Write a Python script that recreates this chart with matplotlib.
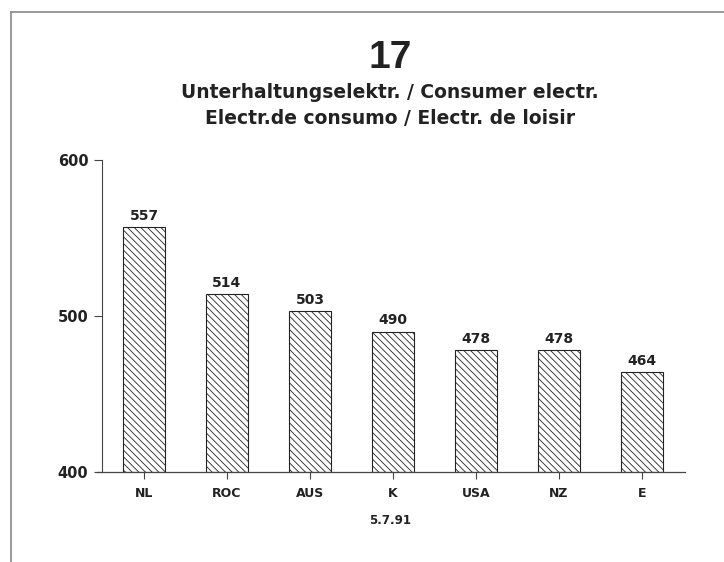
import matplotlib
matplotlib.use('Agg')
import matplotlib.pyplot as plt
from matplotlib.lines import Line2D

countries = ['NL', 'ROC', 'AUS', 'K', 'USA', 'NZ', 'E']
values = [557, 514, 503, 490, 478, 478, 464]
yticks = [400, 500, 600]

plt.rcParams['font.family'] = ['DejaVu Sans']
plt.rcParams['hatch.linewidth'] = 0.6

ink = '#222222'
fig = plt.figure(figsize=(7.24, 5.62), dpi=100)
ax = fig.add_axes([0.134, 0.160, 0.812, 0.555])

# spine position first: it resets the ticks
for s in ['top', 'right']:
    ax.spines[s].set_visible(False)
ax.spines['left'].set_position(('axes', 0.009))
ax.spines['left'].set_color('#444444')
ax.spines['bottom'].set_color('#444444')
ax.spines['left'].set_linewidth(0.8)
ax.spines['bottom'].set_linewidth(0.9)

x = range(len(countries))
bars = ax.bar(x, [v - 400 for v in values], bottom=400, width=0.5,
              color='white', edgecolor=ink, linewidth=0.8, hatch='\\' * 5)
for xi, v in zip(x, values):
    ax.text(xi, v + 3, str(v), ha='center', va='bottom', fontsize=10,
            fontweight='bold', color=ink)

ax.set_xlim(-0.566, 6.518)
ax.set_ylim(400, 600)
ax.set_xticks(list(x))
ax.set_xticklabels(countries, fontsize=9, fontweight='bold', color=ink)
ax.set_yticks(yticks)
ax.set_yticklabels([str(t) for t in yticks], fontsize=10.5, fontweight='bold', color=ink)
ax.tick_params(axis='x', length=5, width=0.8, pad=6, color='#444444')
ax.tick_params(axis='y', length=6, width=0.8, pad=4, color='#444444')

fig.text(0.539, 0.896, '17', ha='center', va='center', fontsize=28,
         family='Liberation Sans', fontweight='bold', color=ink)
fig.text(0.539, 0.835, 'Unterhaltungselektr. / Consumer electr.', ha='center', va='center',
         fontsize=13.5, fontweight='bold', color=ink)
fig.text(0.539, 0.790, 'Electr.de consumo / Electr. de loisir', ha='center', va='center',
         fontsize=13.5, fontweight='bold', color=ink)
fig.text(0.539, 0.073, '5.7.91', ha='center', va='center', fontsize=8.5,
         fontweight='bold', color=ink)

# frame lines of the scanned page
fig.add_artist(Line2D([11 / 724, 11 / 724], [0, 1 - 12 / 562], color='#888888', lw=1.2))
fig.add_artist(Line2D([11 / 724, 1], [1 - 12 / 562, 1 - 12 / 562], color='#888888', lw=1.2))

fig.savefig('out.png', dpi=100, facecolor='white')
